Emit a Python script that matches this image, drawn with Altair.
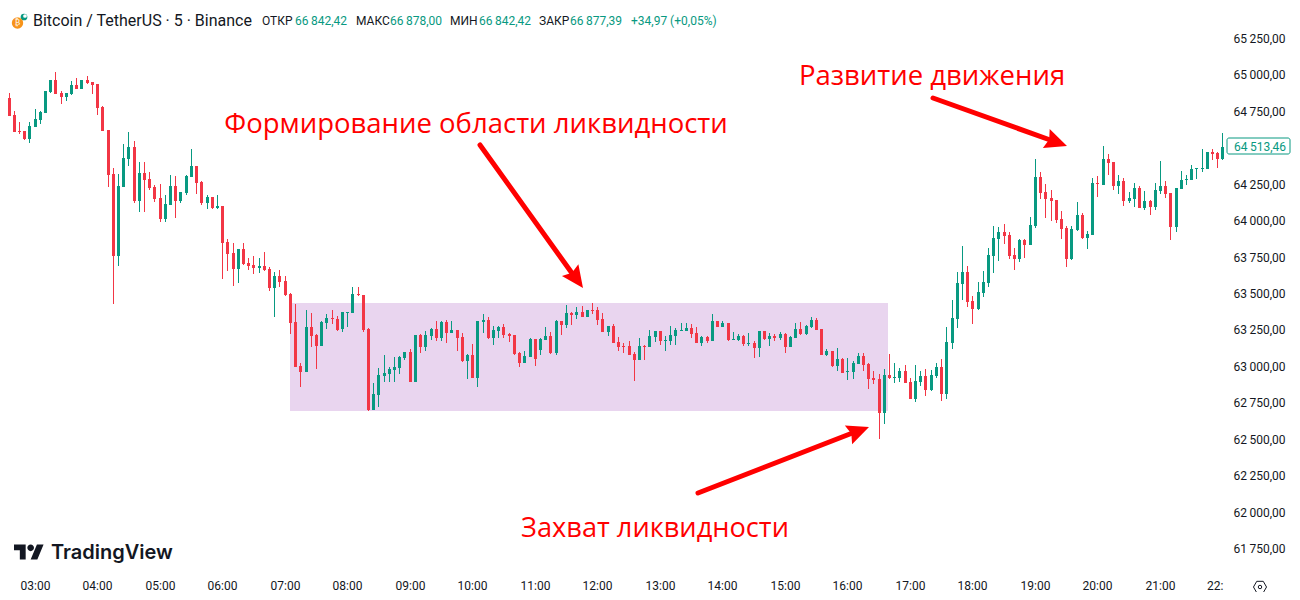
import altair as alt
import pandas as pd

opens = [64824,64838,64721,64612,64612,64557,64639,64687,64735,64879,
64962,64872,64845,64866,64927,64900,64962,64948,64934,64776,
64619,64316,63754,64227,64419,64502,64131,64323,64282,64227,
64152,64008,64104,64234,64131,64186,64296,64371,64262,64117,
64159,64083,64097,63850,63774,63664,63802,63706,63692,63671,
63685,63664,63534,63616,63582,
63493,63301,62999,62957,63266,63211,63136,63294,63328,63321,
63253,63362,63362,63493,63486,63253,62697,62800,62930,62944,
62971,62985,63054,63095,62889,63211,63129,63205,63253,63191,
63301,63225,63246,63198,63033,63074,62916,63301,63314,63191,
63239,63266,63218,63211,63088,63019,63060,63184,63108,63177,
63205,63088,63308,63280,63362,63349,63369,
63335,63383,63383,63321,63232,63273,63163,63136,63136,63081,
63040,63136,63129,63197,63239,63170,63170,63204,63239,63239,
63259,63225,63156,63197,63170,63307,63266,63293,63177,63177,
63204,63149,63156,63122,63239,63184,63204,63191,63218,63129,
63191,63252,63218,63266,63314,63252,63074,63101,62998,63046,
62957,62957,63012,63067,63012,62916,62909,62676,
62937,62917,62917,62965,62889,62772,62889,62930,62834,62930,
62992,62807,63157,63322,63562,63644,63445,63390,63500,63569,
63754,63871,63919,63898,63761,63734,63864,63830,63960,64296,
64193,64152,64139,64008,63946,63734,63933,64036,63878,63898,
64255,64241,64420,64399,64235,64269,64132,64145,64221,64084,
64132,64090,64200,64235,64187,63953,64214,64276,64276,64351,
64351,64351,64468,64461,64420]

highs = [64838,64872,64749,64673,64612,64673,64763,64749,64886,64962,
65017,64886,64872,64955,64975,64962,64989,64948,64934,64783,
64619,64358,64316,64522,64605,64543,64399,64399,64330,64241,
64248,64172,64310,64303,64193,64310,64488,64371,64268,64172,
64159,64172,64097,63870,63843,63802,63843,63740,63754,63740,
63781,63678,63644,63658,63616,
63500,63424,63019,63383,63362,63218,63308,63356,63383,63342,
63369,63369,63541,63541,63486,63260,62882,62985,63074,62992,
63060,63067,63095,63115,63211,63218,63239,63260,63308,63308,
63314,63308,63246,63225,63081,63150,63308,63356,63335,63273,
63273,63287,63225,63211,63095,63102,63191,63184,63191,63266,
63232,63314,63308,63417,63369,63404,63410,
63383,63431,63403,63362,63273,63287,63197,63156,63170,63094,
63191,63142,63245,63239,63239,63204,63273,63259,63293,63293,
63287,63266,63204,63204,63355,63307,63307,63293,63232,63218,
63211,63225,63170,63239,63239,63225,63218,63232,63225,63204,
63293,63300,63280,63335,63328,63252,63115,63101,63122,63053,
63053,63033,63088,63088,63019,62964,62943,62978,
63082,63020,62985,63006,62917,63006,62965,62978,62972,63020,
63047,63267,63452,63644,63823,63686,63480,63576,63651,63809,
63960,63953,63974,63919,63809,63871,63871,64022,64420,64331,
64248,64207,64139,64063,63960,63960,64125,64049,63926,64290,
64303,64509,64454,64399,64310,64290,64193,64255,64235,64200,
64139,64255,64406,64269,64187,64221,64338,64310,64379,64358,
64489,64468,64489,64468,64598]

lows = [64824,64715,64605,64591,64550,64529,64639,64660,64735,64872,
64866,64797,64818,64859,64900,64900,64934,64866,64721,64612,
64227,63424,63685,64227,64371,64117,64056,64056,64207,64124,
63987,63987,64104,64014,64117,64172,64296,64179,64104,64076,
64076,64076,63596,63651,63548,63568,63692,63658,63630,63637,
63651,63513,63335,63541,63479,
63218,62992,62855,62957,63129,62978,63136,63253,63287,63239,
63232,63266,63362,63479,63232,62690,62697,62717,62889,62889,
62889,62944,63040,62889,62889,63088,63102,63177,63170,63170,
63157,63225,63102,63026,62909,62916,62855,63225,63184,63143,
63191,63191,63163,63074,62992,63019,63060,62999,63074,63177,
63081,63074,63211,63260,63280,63321,63335,
63335,63355,63280,63232,63204,63156,63101,63088,63074,62895,
63040,63040,63129,63163,63142,63101,63142,63142,63239,63239,
63191,63156,63136,63156,63170,63266,63266,63170,63177,63170,
63136,63136,63053,63060,63177,63136,63170,63177,63088,63129,
63191,63211,63211,63259,63245,63074,63067,62991,62964,62950,
62902,62909,63012,62964,62840,62875,62497,62600,
62910,62882,62889,62882,62772,62752,62862,62793,62827,62917,
62759,62772,63116,63260,63452,63404,63287,63383,63473,63541,
63637,63720,63837,63734,63658,63713,63740,63830,63946,64145,
64015,63994,63981,63871,63679,63727,63926,63871,63802,63898,
64159,64241,64310,64207,64180,64097,64118,64090,64084,64070,
64036,64070,64180,64152,63864,63919,64214,64241,64276,64283,
64331,64351,64413,64358,64413]

closes = [64838,64715,64605,64605,64557,64646,64694,64742,64886,64962,
64866,64845,64872,64927,64900,64962,64941,64927,64770,64612,
64310,63754,64234,64426,64502,64131,64323,64275,64220,64145,
64008,64111,64234,64131,64193,64303,64371,64255,64117,64159,
64083,64097,63843,63767,63664,63802,63699,63685,63671,63685,
63658,63534,63616,63575,63486,
63294,62992,62957,63266,63205,63136,63301,63328,63321,63246,
63369,63369,63493,63486,63246,62697,62806,62937,62951,62978,
62992,63060,63095,62889,63211,63129,63211,63253,63191,63301,
63225,63246,63191,63033,63074,62916,63308,63314,63191,63246,
63266,63211,63205,63081,63019,63067,63184,63047,63184,63205,
63088,63308,63280,63362,63349,63369,63335,
63383,63376,63314,63232,63273,63156,63129,63129,63074,63040,
63136,63129,63204,63239,63170,63177,63211,63245,63245,63259,
63218,63156,63197,63170,63307,63266,63293,63177,63184,63204,
63149,63156,63122,63239,63184,63204,63191,63218,63129,63197,
63252,63218,63273,63314,63245,63074,63101,62998,63046,62950,
62964,63019,63067,63005,62909,62902,62676,62937,
62917,62924,62965,62882,62772,62896,62930,62834,62937,62992,
62807,63164,63329,63569,63644,63438,63390,63507,63576,63761,
63878,63919,63891,63754,63734,63864,63830,63967,64296,64187,
64145,64132,64001,63939,63734,63939,64036,63878,63905,64255,
64248,64420,64392,64235,64269,64132,64152,64221,64084,64132,
64090,64207,64235,64180,63953,64221,64276,64283,64351,64358,
64358,64468,64454,64420,64502]

price_ticks = [65250,65000,64750,64250,64000,63750,63500,63250,63000,62750,62500,62250,62000,61750]
hour_ticks = [6,18,30,42,54,66,78,90,102,114,126,138,150,162,174,186,198,210,222]

GREEN = "#089981"
RED = "#f23645"
INK = "#131722"
ANNOT = "#ff0000"
FONT = "Roboto"

df = pd.DataFrame({"i": range(len(opens)), "o": opens, "h": highs, "l": lows, "c": closes})
df["dir"] = ["up" if c >= o else "down" for o, c in zip(opens, closes)]

xs = alt.Scale(domain=[0.896, 247.35], range=[0, 1284], nice=False, zero=False, padding=0, round=True)
ys = alt.Scale(domain=[61448, 65456], range=[584, 0], nice=False, zero=False, round=True)
cs = alt.Scale(domain=["up", "down"], range=[GREEN, RED])

x_axis = alt.Axis(values=hour_ticks, orient="bottom", offset=-14, title=None, grid=False, domain=False, ticks=False,
                  labelPadding=2, labelFont=FONT, labelFontSize=12, labelColor=INK, labelOverlap=False,
                  labelExpr="format(3 + (datum.value - 6) / 12, '02d') + ':00'")
y_axis = alt.Axis(values=price_ticks, orient="right", offset=-59, title=None, grid=False, domain=False, ticks=False,
                  labelPadding=0, labelFont=FONT, labelFontSize=12, labelColor=INK, labelAlign="left", labelOverlap=False,
                  labelExpr="replace(replace(format(datum.value, ',.2f'), ',', '\u2009'), '.', ',')")

def X(field="i:Q"):
    return alt.X(field, scale=xs, axis=x_axis, title=None)

def Y(field="p:Q"):
    return alt.Y(field, scale=ys, axis=y_axis, title=None)

zone = alt.Chart(pd.DataFrame({"i": [55.0], "i2": [169.8], "p": [63431], "p2": [62690]})).mark_rect(color="#e9d5ef").encode(
    x=X(), x2="i2:Q", y=Y(), y2="p2:Q")

wicks = alt.Chart(df).mark_rule(strokeWidth=1, clip=True, xOffset=0.5).encode(
    x=X(), y=Y("h:Q"), y2="l:Q",
    color=alt.Color("dir:N", scale=cs, legend=None))
bodies = alt.Chart(df).mark_bar(size=3, orient="vertical", clip=True, xOffset=0.5).encode(
    x=X(), y=Y("o:Q"), y2="c:Q",
    color=alt.Color("dir:N", scale=cs, legend=None))

HEAD = "M0,0 L0.46,1 L0,0.86 L-0.46,1 Z"
def arrow(x0, p0, x1, p1, xt, pt, angle):
    shaft = alt.Chart(pd.DataFrame({"i": [x0, x1], "p": [p0, p1]})).mark_line(
        color=ANNOT, strokeWidth=5, strokeCap="round").encode(x=X(), y=Y())
    head = alt.Chart(pd.DataFrame({"i": [xt], "p": [pt]})).mark_point(
        shape=HEAD, size=1936, filled=True, color=ANNOT, opacity=1, strokeWidth=0, angle=angle).encode(x=X(), y=Y())
    return shaft + head

def note(text, i, p, size=27.5):
    return alt.Chart(pd.DataFrame({"i": [i], "p": [p], "t": [text]})).mark_text(
        font="Open Sans", fontSize=size, color=ANNOT, align="center", baseline="middle").encode(x=X(), y=Y(), text="t:N")

def label(text, px, py, size=12, color=INK, font=FONT, weight=400, align="left"):
    return alt.Chart(pd.DataFrame({"t": [text]})).mark_text(
        font=font, fontSize=size, color=color, fontWeight=weight, align=align, baseline="middle").encode(
        x=alt.value(px - 8), y=alt.value(py - 8), text="t:N")

def glyph(shape, px, py, size, fill=None, stroke=None, sw=0):
    kw = dict(shape=shape, size=size, opacity=1, strokeWidth=sw)
    if fill:
        kw.update(filled=True, fill=fill)
    else:
        kw.update(filled=False)
    if stroke:
        kw.update(stroke=stroke)
    return alt.Chart(pd.DataFrame({"t": [0]})).mark_point(**kw).encode(x=alt.value(px - 8), y=alt.value(py - 8))

TV_LOGO = ("M-.222,.5 L-.611,.5 L-.611,-.111 L-1,-.111 L-1,-.5 L-.222,-.5 Z "
           "M.556,.5 L.111,.5 L.528,-.5 L.972,-.5 Z "
           "M-.111,-.278 a.222,.222 0 1,0 .444,0 a.222,.222 0 1,0 -.444,0 Z")
HEX = "M-1,0 L-.5,-.87 L.5,-.87 L1,0 L.5,.87 L-.5,.87 Z"

layers = [
    zone, wicks, bodies,
    arrow(91.49, 64516, 109.5, 63620, 111.2, 63536, 144.3),
    arrow(178.4, 64836, 201.4, 64542, 204.1, 64507, 109.7),
    arrow(133.4, 62129, 163.5, 62543, 166.2, 62580, 68.9),
    note("Формирование области ликвидности", 90.7, 64653),
    note("Развитие движения", 178.2, 64982),
    note("Захват ликвидности", 125.1, 61880, size=27.2),
    glyph("circle", 24, 17, 45, fill="#089981"),
    glyph("circle", 25, 16, 14, fill="#ffffff"),
    glyph("circle", 17.5, 23, 130, fill="#f7931a"),
    label("₿", 17.5, 23, size=8, color="#ffffff", align="center"),
    label("Bitcoin / TetherUS · 5 · Binance", 33, 21, size=16),
    label("ОТКР", 262, 21),
    label("66\u2009842,42", 295, 21, color=GREEN),
    label("МАКС", 356, 21),
    label("66\u2009878,00", 390, 21, color=GREEN),
    label("МИН", 450, 21),
    label("66\u2009842,42", 479, 21, color=GREEN),
    label("ЗАКР", 539, 21),
    label("66\u2009877,39", 570, 21, color=GREEN),
    label("+34,97 (+0,05%)", 631, 21, color=GREEN),
    glyph(TV_LOGO, 29, 552, 900, fill="#131722"),
    label("TradingView", 51, 553, size=20, font="Inter", weight=600, color="#131722"),
    label("22:", 1207, 586),
    glyph(HEX, 1260, 587, 170, stroke=INK, sw=1),
    glyph("circle", 1260, 587, 12, stroke=INK, sw=1),
]

# last-price tag drawn over the axis column
tag = alt.Chart(pd.DataFrame({"i": [234.9], "i2": [247.0], "p": [64567], "p2": [64457]})).mark_rect(
    fill="#ffffff", stroke=GREEN, strokeWidth=1, cornerRadius=2).encode(
    x=X(), x2="i2:Q", y=Y(), y2="p2:Q")
layers += [tag, label("64\u2009513,46", 1234, 147, color=GREEN)]

chart = alt.layer(*layers).properties(
    width=1284, height=584, padding=0, autosize=alt.AutoSizeParams(type="none"), background="#ffffff"
).configure_view(stroke=None)

chart.save("out.html", embed_options={"renderer": "svg", "actions": False})
